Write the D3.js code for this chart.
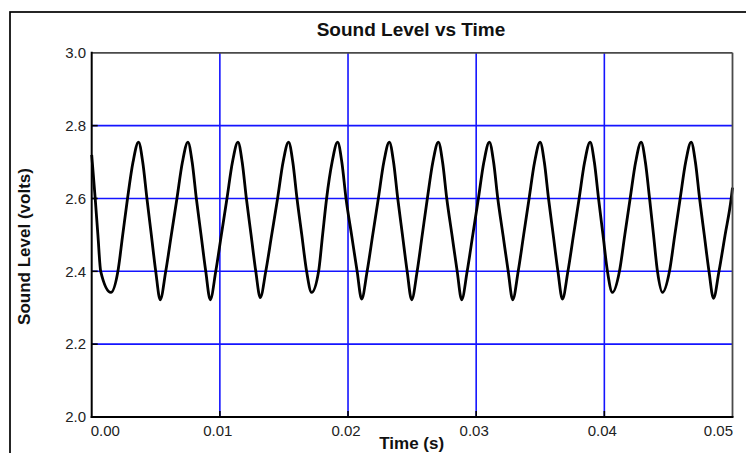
<!DOCTYPE html>
<html>
<head>
<meta charset="utf-8">
<script src="https://cdn.jsdelivr.net/npm/d3@7"></script>
<style>
	body { margin: 0; background: #fff; }
	svg { display: block; font-family: "Liberation Sans", Arial, sans-serif; }
</style>
</head>
<body>
<svg id="chart" width="746" height="453"></svg>
<script>
// Points, one row per cycle: time (ms) ...
var timeMs = [
	0.000, 0.273, 0.484, 0.703,
	1.499, 2.045, 2.420, 2.795, 3.224, 3.653, 3.981, 4.309, 4.653, 4.996,
	5.347, 5.777, 6.214, 6.651, 7.080, 7.510, 7.838, 8.165, 8.532, 8.899,
	9.251, 9.680, 10.117, 10.554, 10.984, 11.413, 11.741, 12.069, 12.436, 12.802,
	13.154, 13.583, 14.044, 14.504, 14.934, 15.363, 15.691, 16.019, 16.393, 16.768,
	17.158, 17.705, 18.017, 18.329, 18.759, 19.188, 19.516, 19.844, 20.277, 20.710,
	21.062, 21.491, 21.928, 22.365, 22.795, 23.224, 23.552, 23.880, 24.247, 24.614,
	24.965, 25.394, 25.792, 26.190, 26.620, 27.049, 27.377, 27.705, 28.111, 28.517,
	28.868, 29.297, 29.735, 30.172, 30.601, 31.030, 31.358, 31.686, 32.092, 32.498,
	32.849, 33.279, 33.704, 34.129, 34.559, 34.988, 35.316, 35.644, 36.011, 36.378,
	36.729, 37.158, 37.596, 38.033, 38.462, 38.892, 39.220, 39.547, 39.895, 40.242,
	40.632, 41.179, 41.597, 42.014, 42.443, 42.873, 43.201, 43.529, 43.837, 44.145,
	44.536, 45.082, 45.500, 45.917, 46.347, 46.776, 47.104, 47.432, 47.798, 48.165,
	48.517, 48.946, 49.422, 49.899, 50.000
];
// ... and sound level (volts)
var levelVolts = [
	2.720, 2.600, 2.500, 2.400,
	2.342, 2.400, 2.500, 2.600, 2.700, 2.755, 2.700, 2.600, 2.500, 2.400,
	2.322, 2.400, 2.500, 2.600, 2.700, 2.755, 2.700, 2.600, 2.500, 2.400,
	2.322, 2.400, 2.500, 2.600, 2.700, 2.755, 2.700, 2.600, 2.500, 2.400,
	2.328, 2.400, 2.500, 2.600, 2.700, 2.755, 2.700, 2.600, 2.500, 2.400,
	2.342, 2.400, 2.500, 2.600, 2.700, 2.755, 2.700, 2.600, 2.500, 2.400,
	2.324, 2.400, 2.500, 2.600, 2.700, 2.755, 2.700, 2.600, 2.500, 2.400,
	2.322, 2.400, 2.500, 2.600, 2.700, 2.755, 2.700, 2.600, 2.500, 2.400,
	2.322, 2.400, 2.500, 2.600, 2.700, 2.755, 2.700, 2.600, 2.500, 2.400,
	2.322, 2.400, 2.500, 2.600, 2.700, 2.755, 2.700, 2.600, 2.500, 2.400,
	2.324, 2.400, 2.500, 2.600, 2.700, 2.755, 2.700, 2.600, 2.500, 2.400,
	2.342, 2.400, 2.500, 2.600, 2.700, 2.755, 2.700, 2.600, 2.500, 2.400,
	2.342, 2.400, 2.500, 2.600, 2.700, 2.755, 2.700, 2.600, 2.500, 2.400,
	2.326, 2.400, 2.500, 2.600, 2.630
];
var xTicks = [0, 0.01, 0.02, 0.03, 0.04, 0.05];
var yTicks = [2.0, 2.2, 2.4, 2.6, 2.8, 3.0];
var chartTitle = "Sound Level vs Time";
var xTitle = "Time (s)";
var yTitle = "Sound Level (volts)";

// plot box (window.top is read-only, so no plain "top" here)
var plotLeft = 91.7, plotRight = 732.5, plotTop = 52.8, plotBottom = 417;

var svg = d3.select("#chart");

var x = d3.scaleLinear().domain([0, 0.05]).range([plotLeft, plotRight]);
var y = d3.scaleLinear().domain([2.0, 3.0]).range([plotBottom, plotTop]);

// outer frame
svg.append("rect")
	.attr("x", 10).attr("y", 12)
	.attr("width", 800).attr("height", 600)
	.attr("fill", "#fff")
	.attr("stroke", "#000")
	.attr("stroke-width", 1.7);

// blue grid
svg.append("g").selectAll("line")
	.data(xTicks.slice(1, -1))
	.join("line")
	.attr("x1", function(d){ return x(d); })
	.attr("x2", function(d){ return x(d); })
	.attr("y1", plotTop).attr("y2", plotBottom)
	.attr("stroke", "#1414ff").attr("stroke-width", 1.6);

svg.append("g").selectAll("line")
	.data(yTicks.slice(1, -1))
	.join("line")
	.attr("x1", plotLeft).attr("x2", plotRight)
	.attr("y1", function(d){ return y(d); })
	.attr("y2", function(d){ return y(d); })
	.attr("stroke", "#1414ff").attr("stroke-width", 1.6);

// short black ticks pointing inward
svg.append("g").selectAll("line")
	.data(yTicks.slice(1, -1))
	.join("line")
	.attr("x1", plotLeft).attr("x2", plotLeft + 6)
	.attr("y1", function(d){ return y(d); })
	.attr("y2", function(d){ return y(d); })
	.attr("stroke", "#000").attr("stroke-width", 1.6);

svg.append("g").selectAll("line")
	.data(xTicks.slice(1, -1))
	.join("line")
	.attr("x1", function(d){ return x(d); })
	.attr("x2", function(d){ return x(d); })
	.attr("y1", plotBottom).attr("y2", plotBottom - 6)
	.attr("stroke", "#000").attr("stroke-width", 1.6);

// the trace
var trace = d3.line()
	.x(function(d, i){ return x(timeMs[i] / 1000); })
	.y(function(d){ return y(d); })
	.curve(d3.curveMonotoneX);

svg.append("path")
	.datum(levelVolts)
	.attr("d", trace)
	.attr("fill", "none")
	.attr("stroke", "#000")
	.attr("stroke-width", 2.8)
	.attr("stroke-linejoin", "round");

// plot frame: top/right grey, left/bottom black
svg.append("line").attr("x1", plotLeft).attr("x2", plotRight).attr("y1", plotTop).attr("y2", plotTop)
	.attr("stroke", "#4a4a4a").attr("stroke-width", 1.8);
svg.append("line").attr("x1", plotRight).attr("x2", plotRight).attr("y1", plotTop).attr("y2", plotBottom)
	.attr("stroke", "#4a4a4a").attr("stroke-width", 1.8);
svg.append("line").attr("x1", plotLeft).attr("x2", plotLeft).attr("y1", plotTop - 1).attr("y2", plotBottom + 1)
	.attr("stroke", "#000").attr("stroke-width", 2);
svg.append("line").attr("x1", plotLeft - 1).attr("x2", plotRight + 1).attr("y1", plotBottom).attr("y2", plotBottom)
	.attr("stroke", "#000").attr("stroke-width", 2);

// tick labels
var xAxis = svg.append("g")
	.attr("transform", "translate(0," + plotBottom + ")")
	.call(d3.axisBottom(x).tickValues(xTicks).tickFormat(d3.format(".2f")).tickSize(0).tickPadding(8));
var yAxis = svg.append("g")
	.attr("transform", "translate(" + plotLeft + ",0)")
	.call(d3.axisLeft(y).tickValues(yTicks).tickFormat(d3.format(".1f")).tickSize(0).tickPadding(5.7));

[xAxis, yAxis].forEach(function(g){
	g.select(".domain").remove();
	g.selectAll("text")
		.attr("font-size", 15)
		.attr("font-family", "Liberation Sans, Arial, sans-serif")
		.attr("fill", "#222");
});
xAxis.selectAll(".tick text")
	.attr("text-anchor", function(d, i){ return i === 0 ? "start" : (i === xTicks.length - 1 ? "end" : "middle"); })
	.attr("x", function(d, i){ return i === 0 ? -1.5 : (i === xTicks.length - 1 ? 0 : -2.5); });

// titles
svg.append("text")
	.attr("x", 411).attr("y", 36)
	.attr("text-anchor", "middle")
	.attr("font-size", 19).attr("font-weight", "bold")
	.attr("fill", "#111")
	.text(chartTitle);

svg.append("text")
	.attr("x", 411.7).attr("y", 448.5)
	.attr("text-anchor", "middle")
	.attr("font-size", 17).attr("font-weight", "bold")
	.attr("fill", "#111")
	.text(xTitle);

svg.append("text")
	.attr("transform", "translate(30,246.5) rotate(-90)")
	.attr("text-anchor", "middle")
	.attr("font-size", 17).attr("font-weight", "bold")
	.attr("fill", "#111")
	.text(yTitle);
</script>
</body>
</html>
